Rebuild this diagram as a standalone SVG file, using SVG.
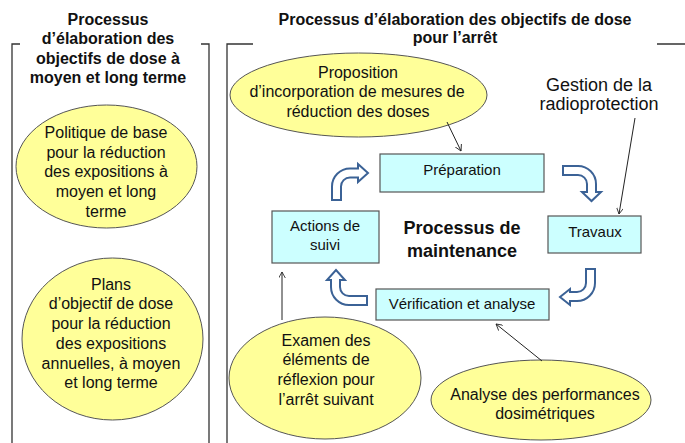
<svg xmlns="http://www.w3.org/2000/svg" width="685" height="443" viewBox="0 0 685 443">
<defs>
<marker id="open" viewBox="0 0 10 10" refX="9" refY="5" markerWidth="7" markerHeight="7" markerUnits="userSpaceOnUse" orient="auto">
<path d="M0,0 L9,5 L0,10" fill="none" stroke="#222" stroke-width="1.2"/>
</marker>
</defs>
<style>
text{font-family:"Liberation Sans",Arial,sans-serif;fill:#111;text-anchor:middle}
.t{font-weight:bold;font-size:16px}
.big{font-weight:bold;font-size:18px}
.e{font-size:16px}
.g{font-size:18px}
.b{font-size:15px}
.frame{fill:none;stroke:#333;stroke-width:1.3}
.ell{fill:#FFFF99;stroke:#555;stroke-width:1}
.box{fill:#CCFFFF;stroke:#555;stroke-width:1.2}
.blk{fill:#fff;stroke:#3B6296;stroke-width:2;stroke-linejoin:miter}
.thin{fill:none;stroke:#222;stroke-width:1;marker-end:url(#open)}
</style>
<rect width="685" height="443" fill="#fff"/>
<g id="frames">
<path class="frame" d="M12,443 V44 H20 M201,44 H209 V443"/>
<path class="frame" d="M227,443 V44 H253 M657,44 H685"/>
</g>
<g id="title-left">
<text class="t" x="108" y="25">Processus</text>
<text class="t" x="108" y="44">d’élaboration des</text>
<text class="t" x="108" y="64">objectifs de dose à</text>
<text class="t" x="108" y="83">moyen et long terme</text>
</g>
<g id="title-right">
<text class="t" x="455" y="25">Processus d’élaboration des objectifs de dose</text>
<text class="t" x="455" y="43">pour l’arrêt</text>
</g>
<g id="politique">
<ellipse class="ell" cx="106.5" cy="166.5" rx="90.5" ry="61.5"/>
<text class="e" x="106" y="138">Politique de base</text>
<text class="e" x="106" y="158">pour la réduction</text>
<text class="e" x="106" y="177">des expositions à</text>
<text class="e" x="106" y="197">moyen et long</text>
<text class="e" x="106" y="217">terme</text>
</g>
<g id="plans">
<ellipse class="ell" cx="112.5" cy="339" rx="90.5" ry="81"/>
<text class="e" x="111" y="290">Plans</text>
<text class="e" x="111" y="309">d’objectif de dose</text>
<text class="e" x="111" y="329">pour la réduction</text>
<text class="e" x="111" y="349">des expositions</text>
<text class="e" x="111" y="369">annuelles, à moyen</text>
<text class="e" x="111" y="388">et long terme</text>
</g>
<g id="proposition">
<ellipse class="ell" cx="358.5" cy="95" rx="128.5" ry="42"/>
<text class="e" x="358" y="78">Proposition</text>
<text class="e" x="357" y="97">d’incorporation de mesures de</text>
<text class="e" x="358" y="117">réduction des doses</text>
</g>
<g id="gestion">
<text class="g" x="599" y="91">Gestion de la</text>
<text class="g" x="599" y="110">radioprotection</text>
</g>
<g id="preparation">
<rect class="box" x="380" y="154" width="164" height="38"/>
<text class="b" x="462" y="175">Préparation</text>
</g>
<g id="actions">
<rect class="box" x="272" y="211" width="107" height="52"/>
<text class="b" x="325" y="231">Actions de</text>
<text class="b" x="325" y="250">suivi</text>
</g>
<g id="maintenance">
<text class="big" x="462" y="234">Processus de</text>
<text class="big" x="462" y="257">maintenance</text>
</g>
<g id="travaux">
<rect class="box" x="548" y="216" width="93" height="37"/>
<text class="b" x="595" y="237">Travaux</text>
</g>
<g id="verification">
<rect class="box" x="376" y="289" width="173" height="31"/>
<text class="b" x="462" y="309">Vérification et analyse</text>
</g>
<g id="examen">
<ellipse class="ell" cx="325" cy="378" rx="96" ry="61"/>
<text class="e" x="326" y="346">Examen des</text>
<text class="e" x="326" y="365">éléments de</text>
<text class="e" x="326" y="385">réflexion pour</text>
<text class="e" x="326" y="405">l’arrêt suivant</text>
</g>
<g id="analyse">
<ellipse class="ell" cx="541" cy="400" rx="110" ry="40"/>
<text class="e" x="545" y="400">Analyse des performances</text>
<text class="e" x="545" y="419">dosimétriques</text>
</g>
<g id="connectors">
<path class="blk" d="M332,200 L332,186.5 A18,18 0 0 1 350,168.5 L358,168.5 L358,164 L368,173 L358,182 L358,177.5 L350,177.5 A9,9 0 0 0 341,186.5 L341,200 Z"/>
<path class="blk" d="M563,166 L578,166 A18,18 0 0 1 596,184 L596,192 L601,192 L591.5,201 L582,192 L587,192 L587,184 A9,9 0 0 0 578,175 L563,175 Z"/>
<path class="blk" d="M586,269 L595,269 L595,283 A18,18 0 0 1 577,301 L570,301 L570,305 L560,297 L570,289 L570,292 L577,292 A9,9 0 0 0 586,283 Z"/>
<path class="blk" d="M367,296 L367,305 L349,305 A18,18 0 0 1 331,287 L331,280 L327,280 L336,270 L345,280 L340,280 L340,287 A9,9 0 0 0 349,296 Z"/>
<line class="thin" x1="447" y1="122" x2="461" y2="151"/>
<line class="thin" x1="635" y1="118" x2="619" y2="214"/>
<line class="thin" x1="282" y1="320" x2="282" y2="272"/>
<line class="thin" x1="542" y1="361" x2="496" y2="324"/>
</g>
</svg>
